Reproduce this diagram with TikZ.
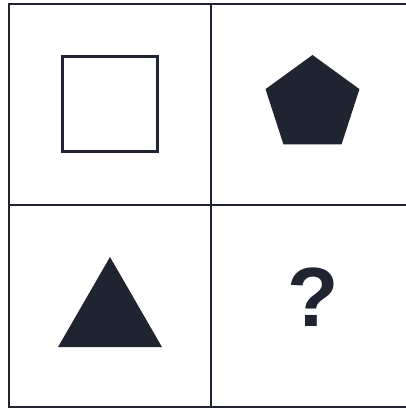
\documentclass[tikz,border=0pt]{standalone}
\usepackage{fontspec}
\setmainfont{Liberation Sans}
\usetikzlibrary{shapes.geometric}
\definecolor{ink}{HTML}{1F2430}
\tikzset{
  gridline/.style={draw=ink, line width=2pt},
  solidshape/.style={fill=ink, draw=none, inner sep=0pt, outer sep=0pt},
}
\begin{document}
\begin{tikzpicture}[x=1pt, y=-1pt]
\useasboundingbox (0,0) rectangle (406,408);
\clip (0,0) rectangle (406,408);
\fill[white] (0,0) rectangle (406,408);
% grid
\draw[gridline] (9,4) rectangle (413,407);
\draw[gridline] (211,4) -- (211,407);
\draw[gridline] (9,205) -- (413,205);
% shapes
\node[draw=ink, line width=3pt, rectangle, minimum size=95pt, inner sep=0pt] (sq) at (110,104) {};
\node[solidshape, regular polygon, regular polygon sides=5, minimum size=98.8pt] (pent) at (312.5,104.4) {};
\node[solidshape, regular polygon, regular polygon sides=3, minimum size=120pt] (tri) at (110,317) {};
\node[inner sep=0pt, text=ink, font=\fontsize{84}{84}\selectfont\bfseries] (q) at (313.5,297.5) {?};
\end{tikzpicture}
\end{document}
